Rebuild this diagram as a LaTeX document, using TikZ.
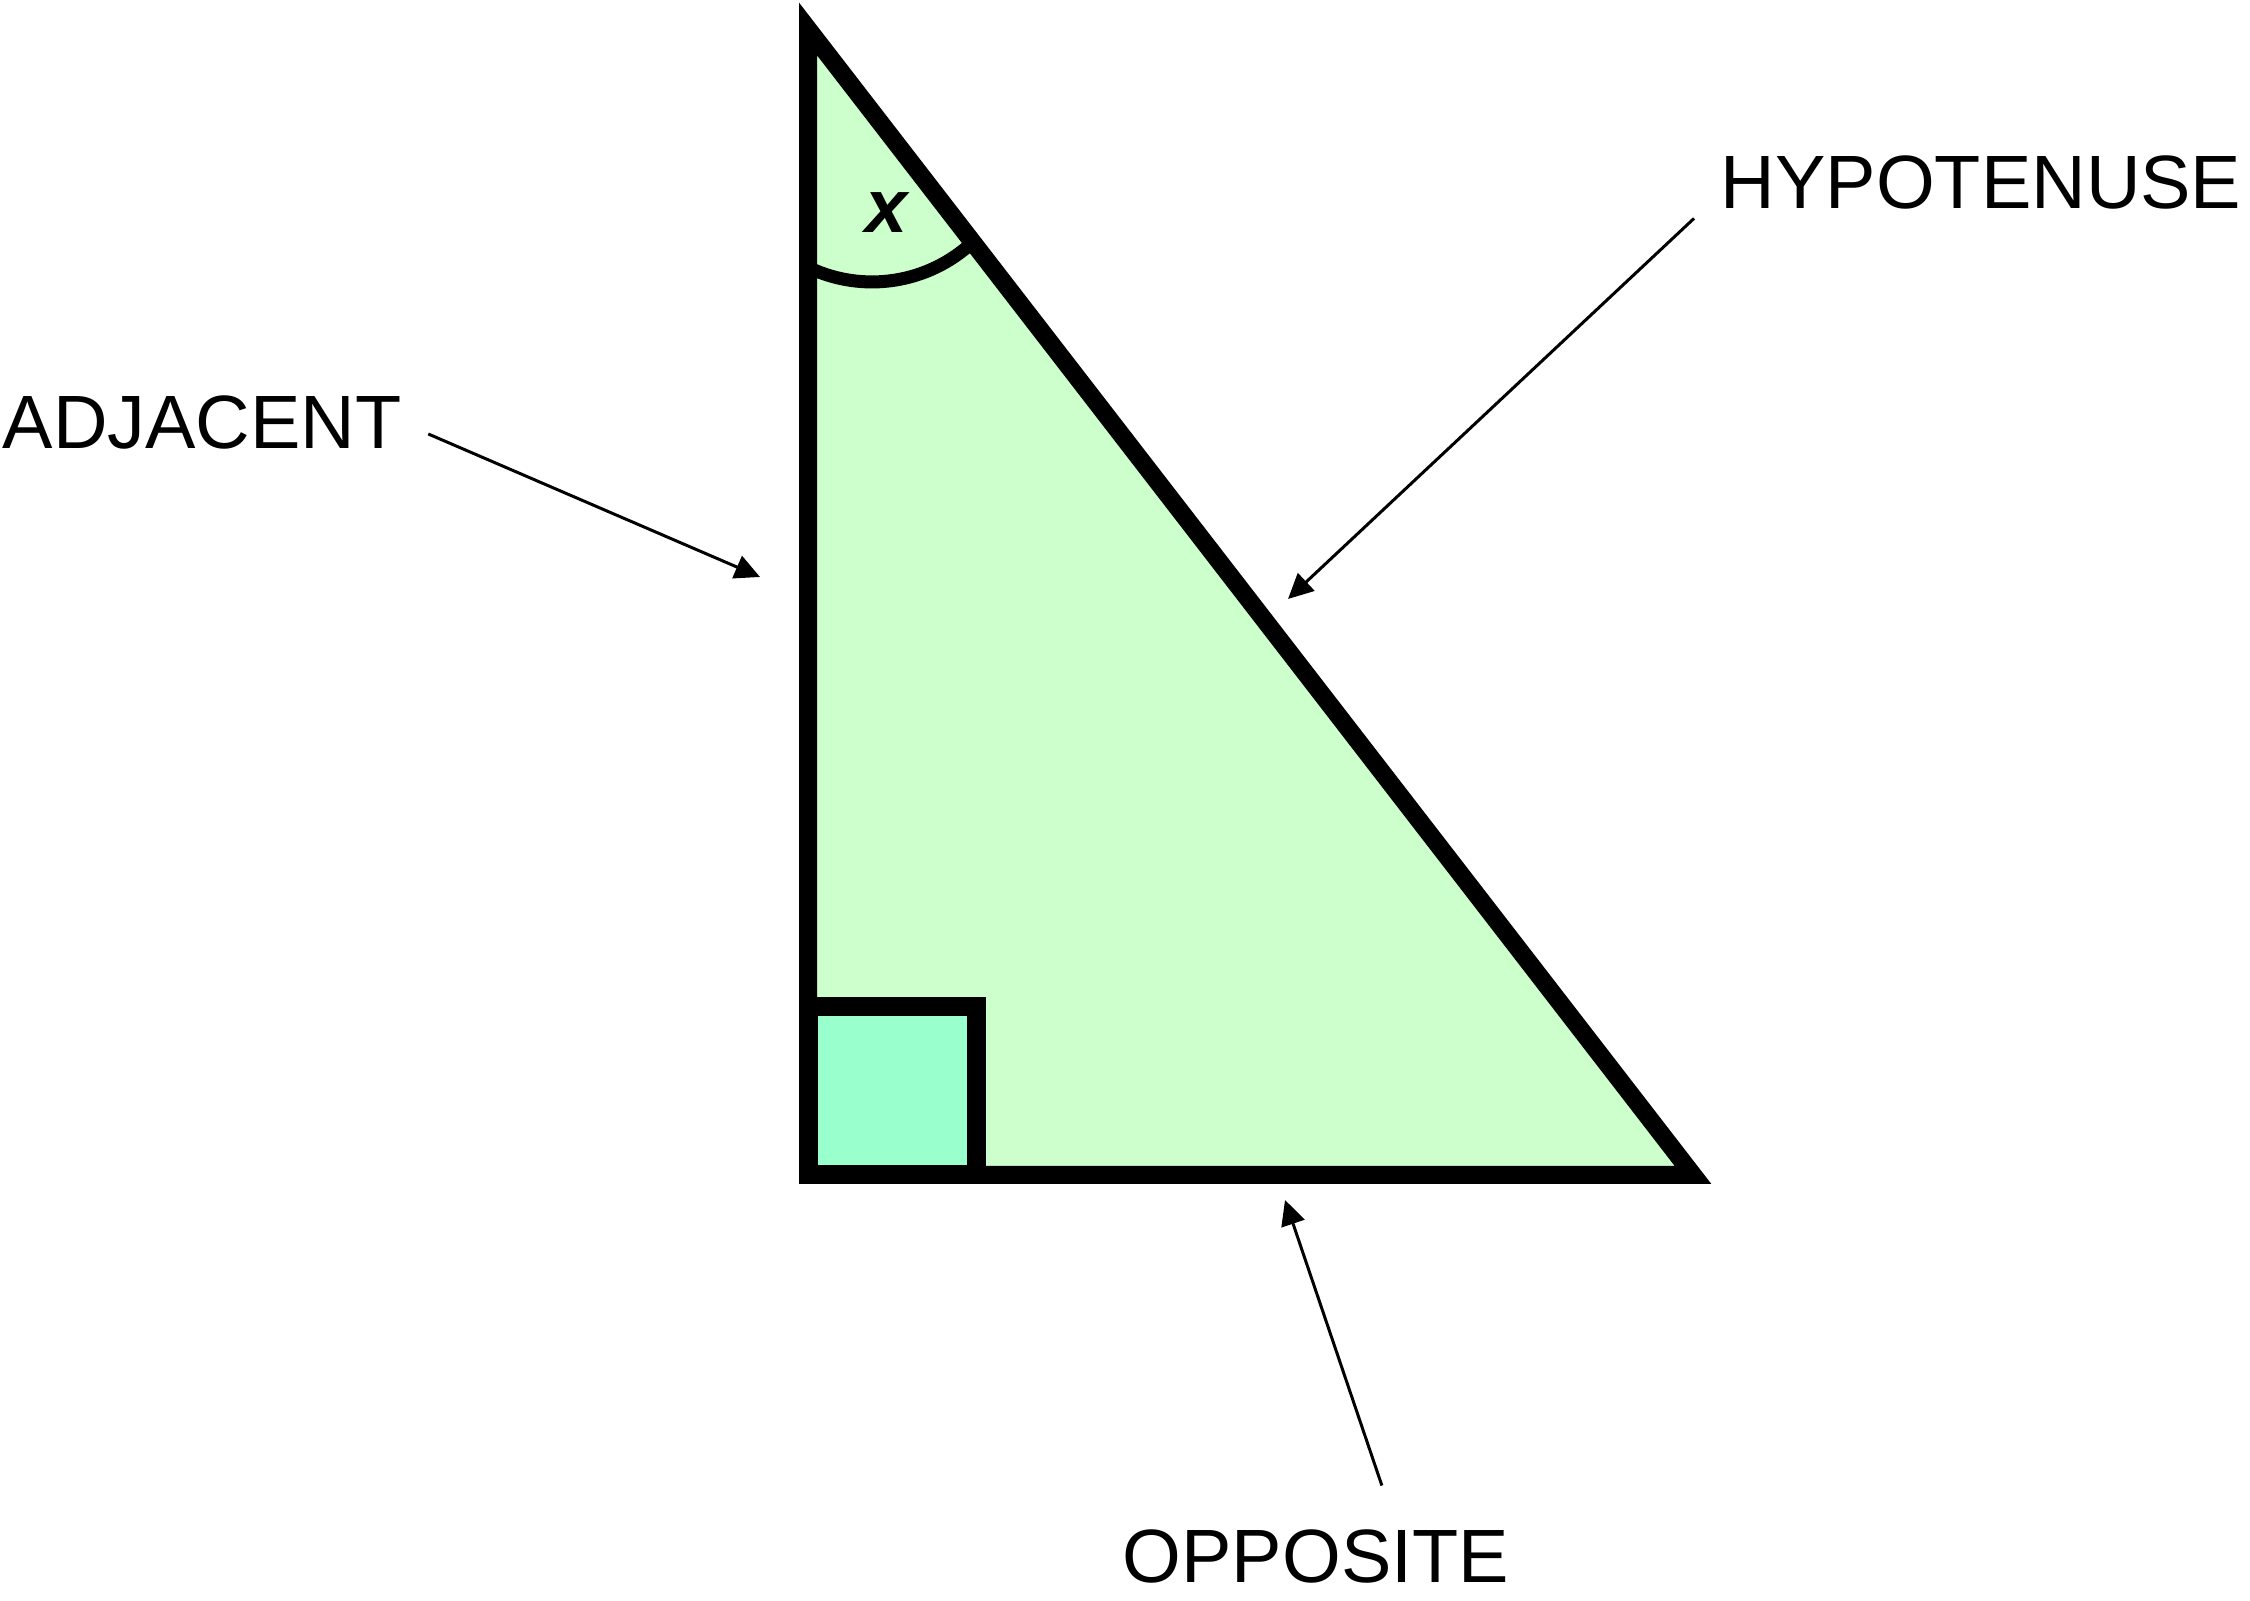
\documentclass[tikz,border=0pt]{standalone}
\usepackage{fontspec}
\setmainfont{Liberation Sans}
\usetikzlibrary{arrows.meta}
\definecolor{legfill}{HTML}{CCFFCC}
\definecolor{rightfill}{HTML}{99FFCC}
\begin{document}
\begin{tikzpicture}[side/.style={font=\fontsize{21.5}{24}\selectfont,inner sep=0pt},
	pointer/.style={-{Triangle[length=0.25cm,width=0.24cm]},line width=0.85pt}]
			\useasboundingbox (0,0) rectangle (22.5,16);
			\coordinate (A) at (8.08,15.71);
			\coordinate (B) at (8.08,4.25);
			\coordinate (C) at (16.93,4.25);
			\fill[legfill] (A) -- (B) -- (C) -- cycle;
			\filldraw[fill=rightfill,line width=0.19cm] (B) rectangle (9.765,5.93);
			\draw[line width=0.18cm] (A) -- (B) -- (C) -- cycle;
			\draw[line width=0.13cm] (8.099,13.318) arc[start angle=245,end angle=313,radius=1.47];
			\node[side,font=\fontsize{21.5}{24}\selectfont\bfseries\itshape] (angle) at (8.86,13.87) {x};
			\node[side,anchor=base west] (adjacent) at (0.02,11.51) {ADJACENT};
			\node[side,anchor=base west] (hypotenuse) at (17.20,13.91) {HYPOTENUSE};
			\node[side,anchor=base west] (opposite) at (11.22,0.18) {OPPOSITE};
			\coordinate (adjtip) at (7.60,10.23);
			\coordinate (hyptip) at (12.88,10.01);
			\coordinate (opptip) at (12.85,4.00);
			\draw[pointer] ([shift={(0.26,-0.11)}]adjacent.east) -- (adjtip);
			\draw[pointer] ([shift={(-0.26,-0.08)}]hypotenuse.south west) -- (hyptip);
			\draw[pointer] ([shift={(0.66,0.43)}]opposite.north) -- (opptip);
		\end{tikzpicture}
\end{document}
